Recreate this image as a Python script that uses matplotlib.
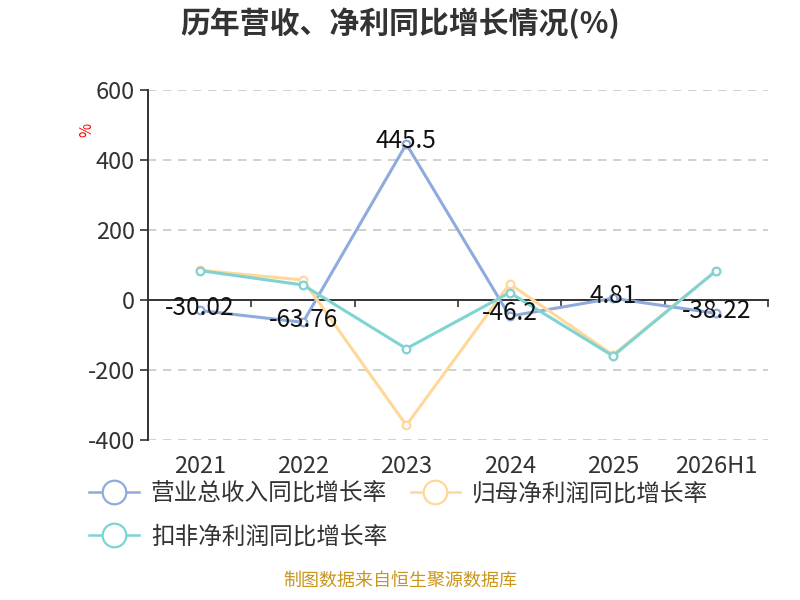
import numpy as np
import matplotlib
matplotlib.use('Agg')
import matplotlib.pyplot as plt
from matplotlib.lines import Line2D
from matplotlib.transforms import blended_transform_factory

plt.rcParams['font.family'] = ['Noto Sans CJK SC', 'DejaVu Sans']
plt.rcParams['axes.unicode_minus'] = False

# data
years = ['2021', '2022', '2023', '2024', '2025', '2026H1']
revenue = [-30.02, -63.76, 445.5, -46.2, 4.81, -38.22]
net_profit = [85, 57, -358, 46, -157, 84]
deducted_profit = [84, 43, -139, 21, -160, 84]
names = ['营业总收入同比增长率', '归母净利润同比增长率', '扣非净利润同比增长率']
colors = ['#8FABDB', '#FFD899', '#7FD3D3']

fig = plt.figure(figsize=(8, 6), dpi=100)
ax = fig.add_axes([0.185, 0.2667, 0.775, 0.5833])

x = np.arange(len(years))
series = [revenue, net_profit, deducted_profit]
for s, c, z in zip(series, colors, [3, 4, 5]):
    ax.plot(x, s, color=c, lw=2.2, marker='o', ms=5.5, mfc='white',
            mec=c, mew=1.6, zorder=z)

# data labels only for revenue
for xi, v in zip(x, revenue):
    ax.annotate(f'{v:g}', (xi, v), xytext=(0, 2), textcoords='offset points',
                ha='center', va='center', fontsize=17.5, color='#111111', zorder=10)

ax.set_xlim(-0.5, len(years) - 0.5)
ax.set_ylim(-400, 600)
ax.set_yticks([-400, -200, 0, 200, 400, 600])
ax.tick_params(axis='y', labelsize=17, colors='#333333', length=6, width=1.2, direction='out')
for yv in [-400, -200, 200, 400, 600]:
    ax.axhline(yv, color='#c8c8c8', lw=1.2, ls=(0, (5, 4)), zorder=1)

for sp in ['top', 'right']:
    ax.spines[sp].set_visible(False)
ax.spines['left'].set_color('#333333')
ax.spines['left'].set_linewidth(1.4)
ax.spines['bottom'].set_position(('data', 0))
ax.spines['bottom'].set_color('#333333')
ax.spines['bottom'].set_linewidth(1.4)
ax.set_xticks(np.arange(len(years)) + 0.5)
ax.set_xticklabels([])
ax.tick_params(axis='x', length=5, width=1.2, colors='#333333', direction='out')

trans = blended_transform_factory(ax.transData, ax.transAxes)
for xi, lab in zip(x, years):
    ax.text(xi, -0.075, lab, transform=trans, ha='center', va='center',
            fontsize=17, color='#333333')

ax.text(-0.098, 0.886, '%', transform=ax.transAxes, rotation=90, color='red',
        fontsize=11, ha='center', va='center')

fig.text(0.5, 0.962, '历年营收、净利同比增长情况(%)', ha='center', va='center',
         fontsize=21.5, fontweight='bold', color='#333333')

handles = [Line2D([], [], color=c, lw=1.8, marker='o', ms=17, mfc='white', mec=c, mew=1.6)
           for c in colors]
order = [0, 2, 1]
leg = fig.legend([handles[i] for i in order], [names[i] for i in order],
                 loc='upper left', bbox_to_anchor=(0.1, 0.212), ncol=2, frameon=False,
                 fontsize=17, handlelength=2.1, handletextpad=0.5, columnspacing=1.0,
                 labelspacing=0.85, borderaxespad=0)
for t in leg.get_texts():
    t.set_color('#333333')

fig.text(0.5, 0.018, '制图数据来自恒生聚源数据库', ha='center', va='bottom',
         fontsize=13, color='#C9961E')

fig.savefig('out.png', dpi=100)
